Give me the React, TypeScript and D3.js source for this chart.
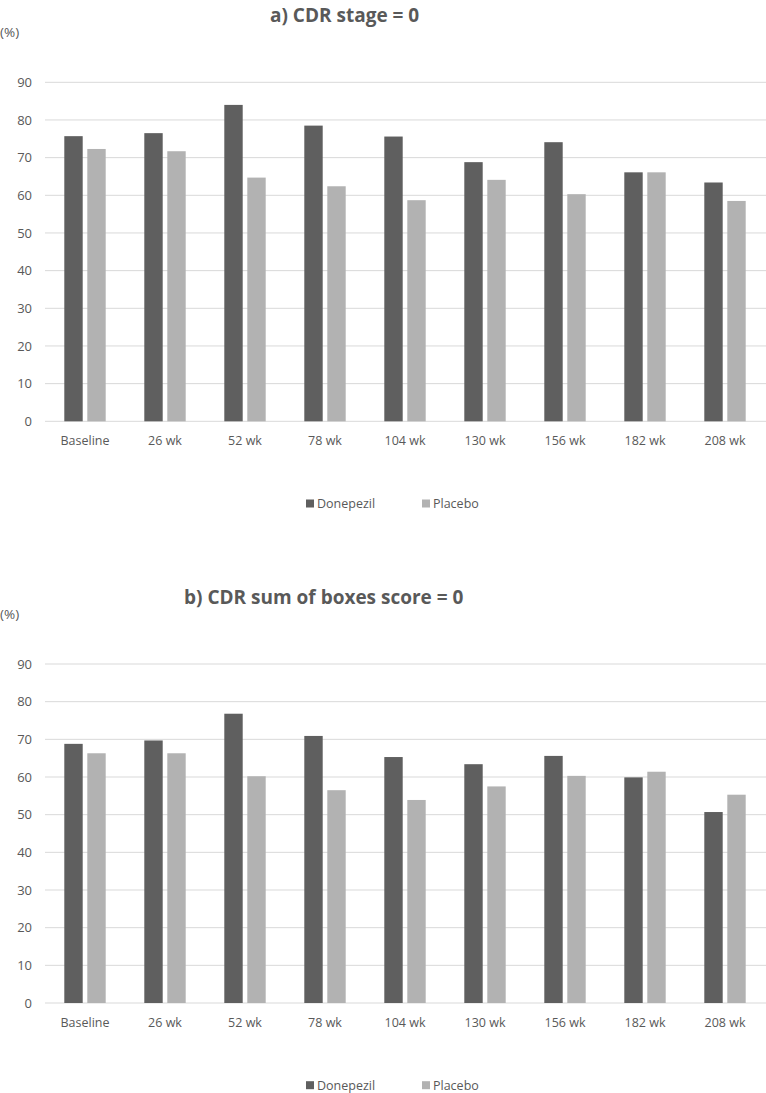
import React, { useEffect, useRef } from 'react';
import * as d3 from 'd3';

const categories = ['Baseline', '26 wk', '52 wk', '78 wk', '104 wk', '130 wk', '156 wk', '182 wk', '208 wk'];
const seriesNames = ['Donepezil', 'Placebo'];
const yTicks = [0, 10, 20, 30, 40, 50, 60, 70, 80, 90];

// a) CDR stage = 0
const stageDonepezil = [75.7, 76.5, 84.0, 78.5, 75.6, 68.8, 74.1, 66.1, 63.4];
const stagePlacebo = [72.3, 71.7, 64.7, 62.4, 58.7, 64.1, 60.3, 66.1, 58.5];

// b) CDR sum of boxes score = 0
const sobDonepezil = [68.8, 69.7, 76.8, 70.9, 65.3, 63.4, 65.6, 59.9, 50.7];
const sobPlacebo = [66.3, 66.3, 60.2, 56.5, 53.9, 57.5, 60.3, 61.4, 55.3];

const colors = ['#5f5f5f', '#b2b2b2'];
const textColor = '#595959';
const font = '"Open Sans", sans-serif';

export default function App() {
	const node = useRef<SVGSVGElement>(null);

	useEffect(() => {
		const svg = d3.select(node.current);
		svg.selectAll('*').remove();

		const drawPanel = (title: string, titleX: number, top: number, values: number[][]) => {
			const g = svg.append('g').attr('transform', `translate(0,${top})`);
			const left = 45;
			const right = 765;
			const y0 = 421.3;
			const y90 = 82.3;

			const x = d3.scaleBand().domain(categories).range([left, right]).padding(0);
			const xInner = d3.scaleBand().domain(seriesNames).range([19.3, 60.7]).paddingInner(0.2);
			const y = d3.scaleLinear().domain([0, 90]).range([y0, y90]);

			g.append('text')
				.attr('x', titleX)
				.attr('y', 22)
				.attr('font-family', font)
				.attr('font-size', 19)
				.attr('font-weight', 'bold')
				.attr('fill', textColor)
				.text(title);

			g.append('text')
				.attr('x', 0)
				.attr('y', 37)
				.attr('font-family', font)
				.attr('font-size', 13.5)
				.attr('fill', textColor)
				.text('(%)');

			// grid
			g.selectAll('.grid')
				.data(yTicks)
				.enter()
				.append('line')
				.attr('x1', left)
				.attr('x2', 766)
				.attr('y1', d => y(d))
				.attr('y2', d => y(d))
				.attr('stroke', '#d9d9d9')
				.attr('stroke-width', 1);

			g.selectAll('.ytick')
				.data(yTicks)
				.enter()
				.append('text')
				.attr('x', 32)
				.attr('y', d => y(d))
				.attr('dy', '0.35em')
				.attr('text-anchor', 'end')
				.attr('font-family', font)
				.attr('font-size', 13)
				.attr('fill', textColor)
				.text(d => d);

			seriesNames.forEach((s, si) => {
				g.selectAll(`.bar${si}`)
					.data(values[si])
					.enter()
					.append('rect')
					.attr('x', (d, i) => (x(categories[i]) as number) + (xInner(s) as number))
					.attr('width', xInner.bandwidth())
					.attr('y', d => y(d))
					.attr('height', d => y0 - y(d))
					.attr('fill', colors[si]);
			});

			g.selectAll('.xtick')
				.data(categories)
				.enter()
				.append('text')
				.attr('x', d => (x(d) as number) + x.bandwidth() / 2)
				.attr('y', 441)
				.attr('dy', '0.35em')
				.attr('text-anchor', 'middle')
				.attr('font-family', font)
				.attr('font-size', 12.5)
				.attr('fill', textColor)
				.text(d => d);

			const legendX = [306, 422];
			seriesNames.forEach((s, si) => {
				g.append('rect')
					.attr('x', legendX[si])
					.attr('y', 499.5)
					.attr('width', 8)
					.attr('height', 8)
					.attr('fill', colors[si]);
				g.append('text')
					.attr('x', legendX[si] + 11)
					.attr('y', 503.5)
					.attr('dy', '0.35em')
					.attr('font-family', font)
					.attr('font-size', 12.5)
					.attr('fill', textColor)
					.text(s);
			});
		};

		drawPanel('a) CDR stage = 0', 270, 0, [stageDonepezil, stagePlacebo]);
		drawPanel('b) CDR sum of boxes score = 0', 184, 581.7, [sobDonepezil, sobPlacebo]);
	}, []);

	return (
		<svg
			ref={node}
			width={766}
			height={1093}
			style={{ position: 'absolute', left: 0, top: 0, background: '#fff' }}
		/>
	);
}
